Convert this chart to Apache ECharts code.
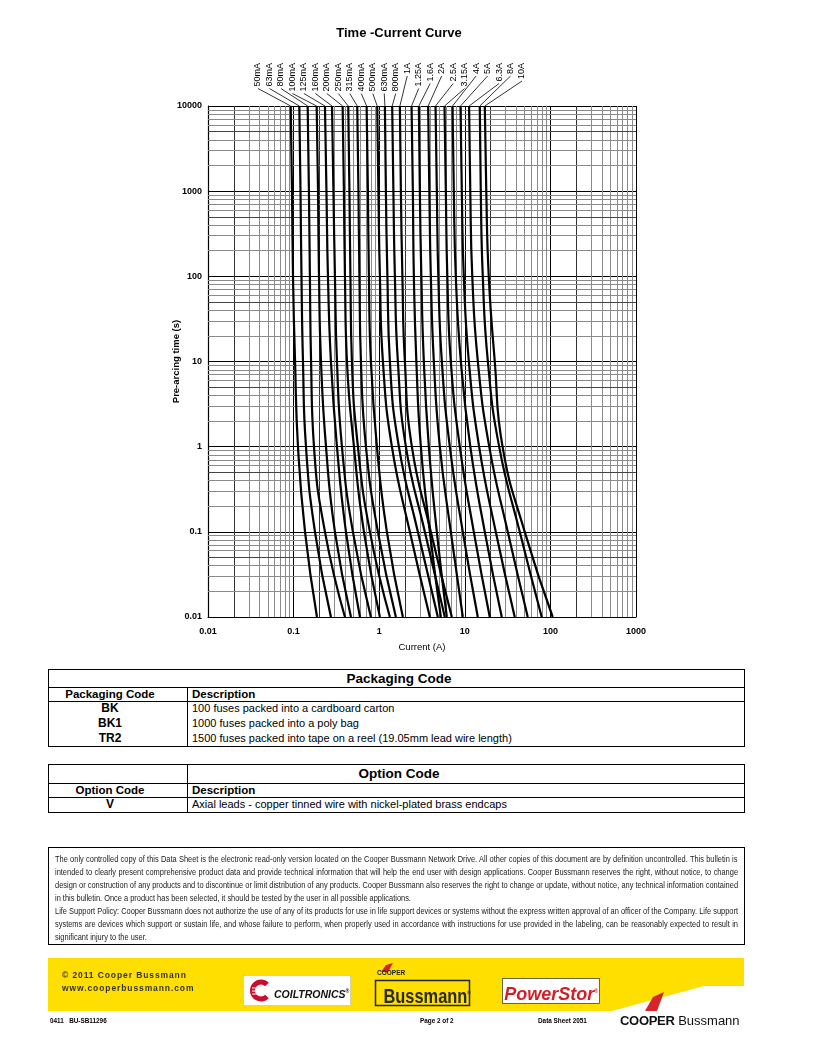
<!DOCTYPE html>
<html><head><meta charset="utf-8">
<script src="https://cdn.jsdelivr.net/npm/echarts@6/dist/echarts.min.js"></script>
<style>
html,body{margin:0;padding:0;background:#fff;}
body{width:816px;height:1056px;position:relative;overflow:hidden;font-family:"Liberation Sans",Arial,Helvetica,sans-serif;color:#000;}
#chart{position:absolute;left:0;top:0;width:816px;height:665px;}
.box{position:absolute;border:1px solid #000;box-sizing:border-box;}
.hl{position:absolute;height:0;border-top:1px solid #000;}
.vl{position:absolute;width:0;border-left:1px solid #000;}
.t{position:absolute;white-space:nowrap;}
.b{font-weight:bold;}
.c1{left:48px;width:124px;text-align:center;}
#discWrap{position:absolute;left:0;top:0;width:816px;height:1056px;filter:grayscale(100%);pointer-events:none;}
.disc{position:absolute;left:55px;height:12px;line-height:12px;white-space:nowrap;font-family:"Liberation Sans",Arial,sans-serif;font-size:9.3px;color:#1a1a1a;transform-origin:0 0;}
.gray{filter:grayscale(100%);}
</style></head>
<body>
<div id="chart"></div>

<!-- Packaging table -->
<div class="box" style="left:48px;top:669px;width:697px;height:78px;"></div>
<div class="hl" style="left:48px;width:697px;top:687px;"></div>
<div class="hl" style="left:48px;width:697px;top:701px;"></div>
<div class="vl" style="left:187px;top:687px;height:59px;"></div>
<div class="t b" style="left:249px;width:300px;text-align:center;top:670px;height:17px;line-height:17px;font-size:13.5px;">Packaging Code</div>
<div class="t b c1" style="top:687px;height:14px;line-height:14px;font-size:11.5px;">Packaging Code</div>
<div class="t b" style="left:192px;top:687px;height:14px;line-height:14px;font-size:11.5px;">Description</div>
<div class="t b c1" style="top:701px;height:15px;line-height:15px;font-size:12px;">BK</div>
<div class="t" style="left:192px;top:701px;height:15px;line-height:15px;font-size:11px;">100 fuses packed into a cardboard carton</div>
<div class="t b c1" style="top:716px;height:15px;line-height:15px;font-size:12px;">BK1</div>
<div class="t" style="left:192px;top:716px;height:15px;line-height:15px;font-size:11px;">1000 fuses packed into a poly bag</div>
<div class="t b c1" style="top:731px;height:15px;line-height:15px;font-size:12px;">TR2</div>
<div class="t" style="left:192px;top:731px;height:15px;line-height:15px;font-size:11px;">1500 fuses packed into tape on a reel (19.05mm lead wire length)</div>

<!-- Option table -->
<div class="box" style="left:48px;top:764px;width:697px;height:49px;"></div>
<div class="hl" style="left:48px;width:697px;top:783px;"></div>
<div class="hl" style="left:48px;width:697px;top:797px;"></div>
<div class="vl" style="left:187px;top:764px;height:48px;"></div>
<div class="t b" style="left:249px;width:300px;text-align:center;top:765px;height:18px;line-height:18px;font-size:13.5px;">Option Code</div>
<div class="t b c1" style="top:783px;height:14px;line-height:14px;font-size:11.5px;">Option Code</div>
<div class="t b" style="left:192px;top:783px;height:14px;line-height:14px;font-size:11.5px;">Description</div>
<div class="t b c1" style="top:797px;height:15px;line-height:15px;font-size:12px;">V</div>
<div class="t" style="left:192px;top:797px;height:15px;line-height:15px;font-size:11px;">Axial leads - copper tinned wire with nickel-plated brass endcaps</div>

<!-- Disclaimer -->
<div class="box" style="left:48px;top:847px;width:697px;height:98px;"></div>
<div id="discWrap">
<div class="disc" data-j="1" style="top:853px;">The only controlled copy of this Data Sheet is the electronic read-only version located on the Cooper Bussmann Network Drive. All other copies of this document are by definition uncontrolled. This bulletin is</div>
<div class="disc" data-j="1" style="top:866px;">intended to clearly present comprehensive product data and provide technical information that will help the end user with design applications. Cooper Bussmann reserves the right, without notice, to change</div>
<div class="disc" data-j="1" style="top:879px;">design or construction of any products and to discontinue or limit distribution of any products. Cooper Bussmann also reserves the right to change or update, without notice, any technical information contained</div>
<div class="disc" data-j="0" style="top:892px;">in this bulletin. Once a product has been selected, it should be tested by the user in all possible applications.</div>
<div class="disc" data-j="1" style="top:905px;">Life Support Policy: Cooper Bussmann does not authorize the use of any of its products for use in life support devices or systems without the express written approval of an officer of the Company. Life support</div>
<div class="disc" data-j="1" style="top:918px;">systems are devices which support or sustain life, and whose failure to perform, when properly used in accordance with instructions for use provided in the labeling, can be reasonably expected to result in</div>
<div class="disc" data-j="0" style="top:931px;">significant injury to the user.</div>
</div>

<!-- Footer -->
<svg style="position:absolute;left:0;top:0;" width="816" height="1056">
  <polygon points="48,958 744,958 744,986 704,986 612,1011 48,1011" fill="#FFDF00"/>
  <rect x="243.5" y="975.5" width="107" height="30" fill="#fff" stroke="#bbb" stroke-width="0.6"/>
  <path d="M267 984.5 A8.5 8.5 0 1 0 267 996.5" fill="none" stroke="#C8102E" stroke-width="5"/>
  <line x1="252" y1="988" x2="262" y2="988" stroke="#fff" stroke-width="1"/>
  <line x1="252" y1="991" x2="262" y2="991" stroke="#fff" stroke-width="1"/>
  <line x1="252" y1="994" x2="262" y2="994" stroke="#fff" stroke-width="1"/>
  <polygon points="381,972 386,965 393,963 388,972" fill="#D8232A"/>
  <rect x="375.5" y="980.5" width="94" height="25" fill="#FFDF00" stroke="#222" stroke-width="1.5"/>
  <rect x="502.5" y="978.5" width="97" height="25" fill="#fff" stroke="#444" stroke-width="0.8"/>
  <polygon points="645,1011 653,997 664,992 657,1011" fill="#D8232A"/>
</svg>
<div class="t b" style="left:62px;top:969px;font-size:8.5px;letter-spacing:0.9px;color:#333;line-height:12px;">© 2011 Cooper Bussmann</div>
<div class="t b" style="left:62px;top:982px;font-size:8.5px;letter-spacing:0.9px;color:#333;line-height:12px;">www.cooperbussmann.com</div>
<div class="t b" style="left:274px;top:984px;font-size:10.5px;font-style:italic;line-height:14px;color:#111;">COILTRONICS<sup style="font-size:5px;">®</sup></div>
<div class="t b" style="left:377px;top:969px;font-size:6.5px;line-height:8px;color:#222;font-weight:900;">COOPER</div>
<div class="t" style="left:375px;width:95px;text-align:center;top:981px;font-size:20px;line-height:24px;font-weight:bold;color:#2a2a2a;transform:scaleX(0.82);transform-origin:47px 0;">Bussmann<sup style="font-size:6px;">®</sup></div>
<div class="t" style="left:502px;width:98px;text-align:center;top:979px;font-size:18px;line-height:24px;font-weight:bold;font-style:italic;color:#D21F26;">PowerStor<sup style="font-size:5px;">®</sup></div>
<div class="t b gray" style="left:50px;top:1016px;font-size:7.5px;line-height:10px;transform:scaleX(0.85);transform-origin:0 0;">0411&nbsp;&nbsp;&nbsp;BU-SB11296</div>
<div class="t b gray" style="left:420px;top:1016px;font-size:7.5px;line-height:10px;transform:scaleX(0.85);transform-origin:0 0;">Page 2 of 2</div>
<div class="t b gray" style="left:538px;top:1016px;font-size:7.5px;line-height:10px;transform:scaleX(0.85);transform-origin:0 0;">Data Sheet 2051</div>
<div class="t" style="left:620px;top:1013px;font-size:13px;line-height:16px;color:#111;"><span style="font-weight:900;letter-spacing:-0.3px;">COOPER</span> Bussmann</div>

<script>
// ---------------- data ----------------
const ratings = ['50mA','63mA','80mA','100mA','125mA','160mA','200mA','250mA','315mA','400mA','500mA','630mA','800mA','1A','1.25A','1.6A','2A','2.5A','3.15A','4A','5A','6.3A','8A','10A'];
const times = [10000, 1000, 100, 10, 1, 0.1, 0.01];   // pre-arcing time (s)
// current (A) at each time above, per rating
const c50mA  = [0.0925, 0.0958, 0.0984, 0.104, 0.1125, 0.136, 0.1875];
const c63mA  = [0.1166, 0.1204, 0.1236, 0.1287, 0.1395, 0.1777, 0.273];
const c80mA  = [0.146, 0.151, 0.155, 0.160, 0.173, 0.2325, 0.398];
const c100mA = [0.186, 0.193, 0.198, 0.209, 0.239, 0.304, 0.468];
const c125mA = [0.2325, 0.242, 0.252, 0.273, 0.321, 0.409, 0.596];
const c160mA = [0.281, 0.292, 0.304, 0.321, 0.367, 0.493, 0.80];
const c200mA = [0.374, 0.387, 0.398, 0.420, 0.507, 0.663, 1.019];
const c250mA = [0.435, 0.449, 0.461, 0.480, 0.564, 0.779, 1.333];
const c315mA = [0.554, 0.572, 0.5875, 0.612, 0.700, 0.966, 1.566];
const c400mA = [0.713, 0.738, 0.758, 0.80, 0.940, 1.230, 1.890];
const c500mA = [0.948, 0.979, 1.019, 1.105, 1.407, 2.281, 3.905];
const c630mA = [1.166, 1.197, 1.247, 1.333, 1.698, 2.828, 4.842];
const c800mA = [1.418, 1.465, 1.525, 1.653, 2.049, 3.414, 5.843];
const c1A    = [1.744, 1.792, 1.866, 1.995, 2.407, 4.011, 7.052];
const c1_25A = [2.388, 2.473, 2.540, 2.718, 3.066, 3.905, 5.248];
const c1_6A  = [2.906, 2.985, 3.107, 3.323, 3.801, 4.713, 6.166];
const c2A    = [3.731, 3.853, 4.011, 4.348, 5.109, 6.866, 9.478];
const c2_5A  = [4.551, 4.713, 4.907, 5.391, 6.683, 9.478, 14.18];
const c3_15A = [5.796, 6.002, 6.249, 6.866, 8.744, 12.74, 19.57];
const c4A    = [7.187, 7.441, 7.852, 9.00, 11.60, 17.12, 27.02];
const c5A    = [8.910, 9.226, 9.734, 11.15, 14.70, 23.0, 38.32];
const c6_3A  = [11.22, 11.59, 12.23, 14.20, 19.30, 31.76, 54.35];
const c8A    = [14.96, 15.37, 16.22, 18.60, 25.20, 43.84, 79.15];
const c10A   = [17.12, 17.82, 19.05, 22.40, 27.60, 50.13, 106.4];
const xTickLabels = ['0.01','0.1','1','10','100','1000'];
const yTickLabels = ['0.01','0.1','1','10','100','1000','10000'];

const curves = [c50mA,c63mA,c80mA,c100mA,c125mA,c160mA,c200mA,c250mA,c315mA,c400mA,c500mA,c630mA,c800mA,c1A,c1_25A,c1_6A,c2A,c2_5A,c3_15A,c4A,c5A,c6_3A,c8A,c10A];

// ---------------- chart ----------------
const FONT = '"Liberation Sans", Arial, sans-serif';
function tickFmt(list){
  return function(v){
    for (const s of list){ if (Math.abs(Math.log10(Number(s)) - Math.log10(v)) < 1e-6) return s; }
    return '';
  };
}
const minorX = [], minorY = [];
[0.01,0.1,1,10,100].forEach(d=>{ for(let m=2;m<=9;m++) minorX.push({xAxis: +(m*d).toPrecision(3), lineStyle:{color: m===2 ? '#333' : '#8a8a8a', width:1, type:'solid'}}); });
[0.01,0.1,1,10,100,1000].forEach(d=>{ for(let m=2;m<=9;m++) minorY.push({yAxis: +(m*d).toPrecision(3), lineStyle:{color: m===5 ? '#444' : '#8a8a8a', width:1, type:'solid'}}); });

const series = curves.map((c,i)=>({
  name: ratings[i], type:'line', data: c.map((x,j)=>[x, times[j]]),
  smooth: 0.5, showSymbol:false, symbol:'none', silent:true, animation:false, z:5,
  lineStyle:{color:'#000', width:2.2}
}));
series.push({
  type:'line', data:[], silent:true, animation:false, z:1,
  markLine:{silent:true, animation:false, symbol:['none','none'], label:{show:false},
    lineStyle:{type:'solid'}, data: minorX.concat(minorY)}
});

const chart = echarts.init(document.getElementById('chart'));
chart.setOption({
  animation:false,
  backgroundColor:'transparent',
  grid:{left:208, right:180, top:106, bottom:48, show:false},
  xAxis:{type:'log', logBase:10, min:0.01, max:1000, splitNumber:5,
    axisLine:{show:true, lineStyle:{color:'#000', width:1.2}}, axisTick:{show:false},
    splitLine:{show:true, lineStyle:{color:'#000', width:1}},
    axisLabel:{formatter: tickFmt(xTickLabels), fontSize:9, fontWeight:'bold', color:'#000', margin:10, fontFamily:FONT},
    name:'Current (A)', nameLocation:'middle', nameGap:25, nameMoveOverlap:false,
    nameTextStyle:{fontSize:9.5, color:'#000', fontFamily:FONT}},
  yAxis:{type:'log', logBase:10, min:0.01, max:10000, splitNumber:6,
    axisLine:{show:true, lineStyle:{color:'#000', width:1.2}}, axisTick:{show:false},
    splitLine:{show:true, lineStyle:{color:'#000', width:1}},
    axisLabel:{formatter: tickFmt(yTickLabels), fontSize:9, fontWeight:'bold', color:'#000', margin:6, fontFamily:FONT},
    name:'Pre-arcing time (s)', nameLocation:'middle', nameGap:27, nameMoveOverlap:false,
    nameTextStyle:{fontSize:9.5, color:'#000', fontFamily:FONT, fontWeight:'bold'}},
  series: series
});

// rating labels with leader lines, and title
const meas = document.createElement('canvas').getContext('2d');
const LF = '9px "Liberation Sans"';
meas.font = LF;
const g = [{type:'text', x:399, y:33, style:{text:'Time -Current Curve', font:'bold 13px "Liberation Sans"', fill:'#000', align:'center', verticalAlign:'middle'}}];
ratings.forEach((r,i)=>{
  const lx = 258 + i*(522-258)/(ratings.length-1);
  const ty = 63;
  const w = meas.measureText(r).width;
  g.push({type:'text', x:lx, y:ty, rotation:Math.PI/2, silent:true,
    style:{text:r, font:LF, fill:'#000', align:'right', verticalAlign:'middle'}});
  const p = chart.convertToPixel({gridIndex:0}, [curves[i][0], times[0]]);
  g.push({type:'line', silent:true, shape:{x1:lx, y1:ty+w+2, x2:p[0], y2:p[1]}, style:{stroke:'#000', lineWidth:0.8}});
});
chart.setOption({graphic:g});

// disclaimer: condensed look via horizontal scale; justified lines filled via word-spacing
(function(){
  const divs = Array.from(document.querySelectorAll('#discWrap .disc'));
  const ctx = document.createElement('canvas').getContext('2d');
  const cs = getComputedStyle(divs[0]);
  ctx.font = cs.fontSize + ' ' + cs.fontFamily;
  const W = 683;
  let natMax = 0;
  divs.forEach(d=>{ if (d.dataset.j === '1') natMax = Math.max(natMax, ctx.measureText(d.textContent).width); });
  const k = W / natMax;
  divs.forEach(d=>{
    d.style.transform = 'scaleX(' + k.toFixed(4) + ')';
    if (d.dataset.j === '1') {
      const txt = d.textContent;
      const nat = ctx.measureText(txt).width;
      const spaces = (txt.match(/ /g) || []).length;
      d.style.wordSpacing = ((W / k - nat) / spaces).toFixed(3) + 'px';
    }
  });
})();
</script>
</body></html>
